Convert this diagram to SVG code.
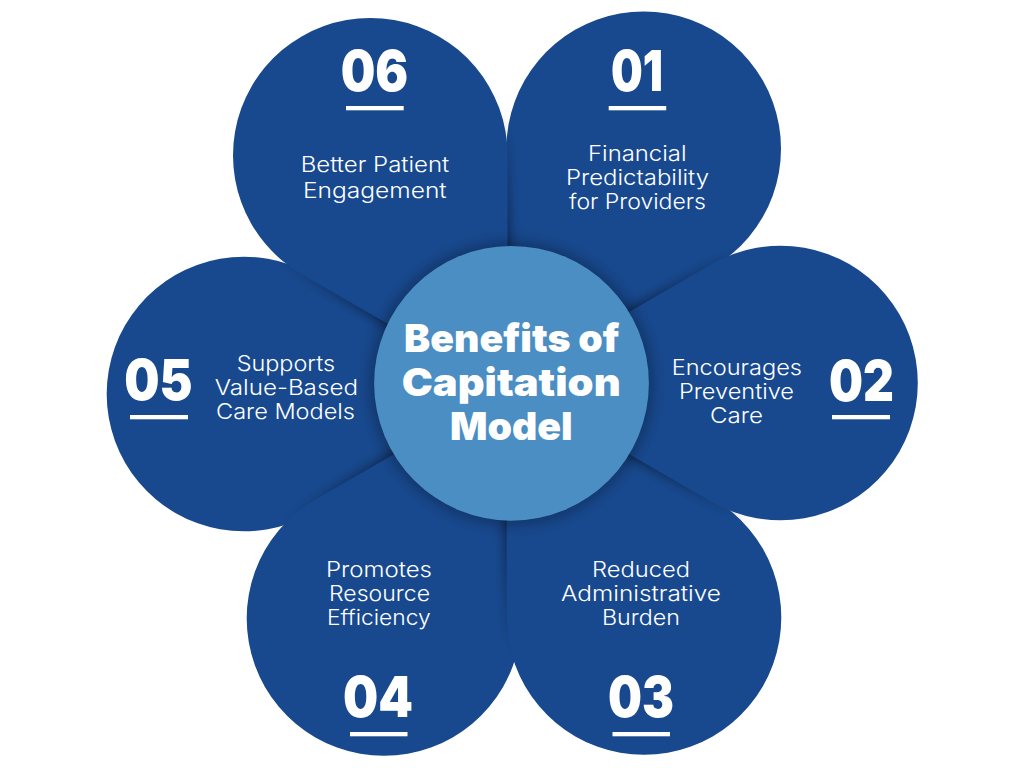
<svg xmlns="http://www.w3.org/2000/svg" width="1024" height="768" viewBox="0 0 1024 768">
<style>
.petal{fill:#18498f}
.sh{fill:url(#shadeGrad);filter:url(#soft)}
.body{font-family:"Inter","Noto Sans",sans-serif;font-size:21.5px;font-weight:300;fill:#fff}
.num{font-family:"Inter","Noto Sans",sans-serif;font-size:57px;font-weight:900;fill:#fff}
.title{font-family:"Inter","Noto Sans",sans-serif;font-size:39px;font-weight:900;fill:#fff}
.bar{fill:#fff}
</style>
<defs>
<radialGradient id="shadeGrad" gradientUnits="userSpaceOnUse" cx="512" cy="383" r="275">
<stop offset="0.5" stop-color="#000" stop-opacity="0.7"/>
<stop offset="0.72" stop-color="#000" stop-opacity="0.38"/>
<stop offset="1" stop-color="#000" stop-opacity="0"/>
</radialGradient>
<filter id="soft" x="-15%" y="-15%" width="130%" height="130%"><feGaussianBlur stdDeviation="7"/></filter>
<filter id="softC" x="-20%" y="-20%" width="140%" height="140%"><feGaussianBlur stdDeviation="9"/></filter>
</defs>
<rect width="1024" height="768" fill="#fff"/>

<g id="node-01">
<path class="petal" d="M506.4 386.5L506.4 148.7A137.3 137.3 0 1 1 712.35 267.6Z"/>
<text class="num" x="611" y="91" textLength="52" lengthAdjust="spacingAndGlyphs">01</text>
<rect class="bar" x="608.7" y="106" width="57.5" height="4.3"/>
<text class="body" x="588" y="161" textLength="98.5" lengthAdjust="spacingAndGlyphs">Financial</text>
<text class="body" x="566" y="185" textLength="143" lengthAdjust="spacingAndGlyphs">Predictability</text>
<text class="body" x="569" y="209" textLength="137" lengthAdjust="spacingAndGlyphs">for Providers</text>
</g>

<g id="node-05">
<path class="petal" d="M518.6 394L312.65 512.9A137.3 137.3 0 1 1 312.65 275.1Z"/>
<text class="num" x="124.3" y="400" textLength="68.4" lengthAdjust="spacingAndGlyphs">05</text>
<rect class="bar" x="130" y="415" width="58" height="4.3"/>
<text class="body" x="236.7" y="371" textLength="98.3" lengthAdjust="spacingAndGlyphs">Supports</text>
<text class="body" x="214.7" y="395" textLength="143.3" lengthAdjust="spacingAndGlyphs">Value-Based</text>
<text class="body" x="216" y="419" textLength="139" lengthAdjust="spacingAndGlyphs">Care Models</text>
</g>

<g id="node-06">
<path class="sh" d="M507.6 393.1L301.65 274.2A137.3 137.3 0 1 1 507.6 155.3Z"/>
<path class="petal" d="M507.6 393.1L301.65 274.2A137.3 137.3 0 1 1 507.6 155.3Z"/>
<text class="num" x="340.7" y="91" textLength="67.6" lengthAdjust="spacingAndGlyphs">06</text>
<rect class="bar" x="346" y="106" width="57.7" height="4.3"/>
<text class="body" x="300.7" y="172" textLength="148.6" lengthAdjust="spacingAndGlyphs">Better Patient</text>
<text class="body" x="303" y="198" textLength="143.7" lengthAdjust="spacingAndGlyphs">Engagement</text>
</g>

<g id="node-04">
<path class="sh" d="M521.3 380.7L521.3 618.5A137.3 137.3 0 1 1 315.35 499.6Z"/>
<path class="petal" d="M521.3 380.7L521.3 618.5A137.3 137.3 0 1 1 315.35 499.6Z"/>
<text class="num" x="343" y="716.5" textLength="70" lengthAdjust="spacingAndGlyphs">04</text>
<rect class="bar" x="350" y="732" width="57.5" height="4.3"/>
<text class="body" x="326" y="577" textLength="106" lengthAdjust="spacingAndGlyphs">Promotes</text>
<text class="body" x="329" y="601" textLength="101" lengthAdjust="spacingAndGlyphs">Resource</text>
<text class="body" x="327" y="625" textLength="103.7" lengthAdjust="spacingAndGlyphs">Efficiency</text>
</g>

<g id="node-03">
<path class="sh" d="M506.7 379.7L712.65 498.6A137.3 137.3 0 1 1 506.7 617.5Z"/>
<path class="petal" d="M506.7 379.7L712.65 498.6A137.3 137.3 0 1 1 506.7 617.5Z"/>
<text class="num" x="608" y="716.5" textLength="66" lengthAdjust="spacingAndGlyphs">03</text>
<rect class="bar" x="612.5" y="732" width="57.5" height="4.3"/>
<text class="body" x="592" y="577" textLength="98" lengthAdjust="spacingAndGlyphs">Reduced</text>
<text class="body" x="561" y="601" textLength="160" lengthAdjust="spacingAndGlyphs">Administrative</text>
<text class="body" x="602" y="625" textLength="78" lengthAdjust="spacingAndGlyphs">Burden</text>
</g>

<g id="node-02">
<path class="sh" d="M505.9 383L711.85 264.1A137.3 137.3 0 1 1 711.85 501.9Z"/>
<path class="petal" d="M505.9 383L711.85 264.1A137.3 137.3 0 1 1 711.85 501.9Z"/>
<text class="num" x="829" y="401" textLength="65" lengthAdjust="spacingAndGlyphs">02</text>
<rect class="bar" x="832" y="415" width="58" height="4.3"/>
<text class="body" x="671.7" y="375" textLength="130.3" lengthAdjust="spacingAndGlyphs">Encourages</text>
<text class="body" x="679" y="399" textLength="115" lengthAdjust="spacingAndGlyphs">Preventive</text>
<text class="body" x="710" y="423" textLength="53" lengthAdjust="spacingAndGlyphs">Care</text>
</g>

<g id="node-center">
<circle cx="511.5" cy="383.3" r="139" fill="#000" fill-opacity="0.38" filter="url(#softC)"/>
<circle cx="511.5" cy="383.3" r="137.4" fill="#4a8ec4"/>
<text class="title" x="404" y="351.5" textLength="215.3" lengthAdjust="spacingAndGlyphs">Benefits of</text>
<text class="title" x="401.7" y="395.5" textLength="219" lengthAdjust="spacingAndGlyphs">Capitation</text>
<text class="title" x="450" y="439.5" textLength="122.7" lengthAdjust="spacingAndGlyphs">Model</text>
</g>
</svg>
